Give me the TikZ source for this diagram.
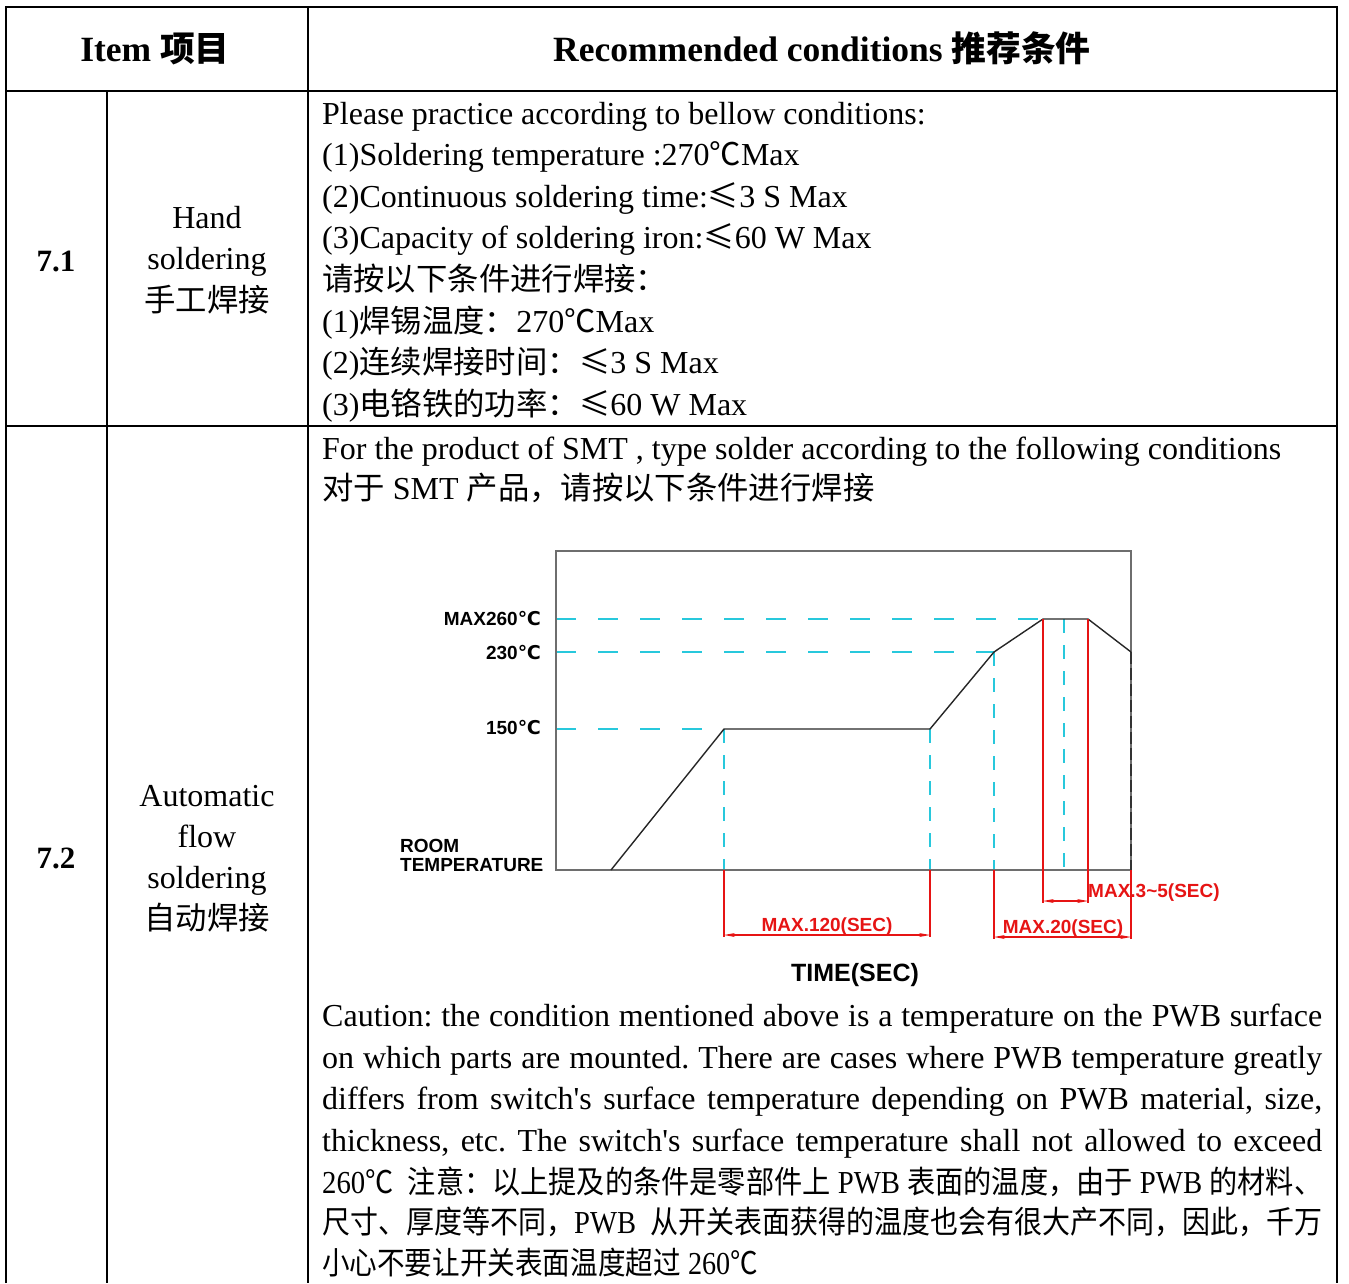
\documentclass[tikz,border=0pt]{standalone}
\usepackage{fontspec}
\usepackage{graphicx}
\setmainfont{Liberation Serif}
\setsansfont{Liberation Sans}
\newfontfamily\cjk[Scale=0.98]{Noto Sans CJK SC}
\newfontfamily\dvs{DejaVu Sans}
\usetikzlibrary{arrows.meta}
\definecolor{cy}{RGB}{40,200,220}
\definecolor{rd}{RGB}{230,20,20}
\definecolor{bx}{RGB}{110,110,110}
\frenchspacing
\begin{document}
\begin{tikzpicture}[x=1pt,y=-1pt,
 gridline/.style={line width=2.6pt,black},
 txt/.style={inner sep=0pt,anchor=base west,font=\fontsize{32}{40}\selectfont\frenchspacing},
 ctxt/.style={inner sep=0pt,anchor=base,font=\fontsize{32}{40}\selectfont},
 hdr/.style={inner sep=0pt,anchor=base,font=\fontsize{35.5}{40}\selectfont\bfseries},
 num/.style={inner sep=0pt,anchor=base,font=\fontsize{31}{40}\selectfont\bfseries},
 lbl/.style={inner sep=0pt,font=\fontsize{19}{21}\selectfont\sffamily\bfseries},
 rlbl/.style={lbl,text=rd},
 cyd/.style={cy,line width=1.2pt,dash pattern=on 20pt off 22pt},
 cyv/.style={cy,line width=1.2pt,dash pattern=on 14pt off 12pt},
 rl/.style={rd,line width=1.2pt},
 dim/.style={rd,line width=1.2pt,{Stealth[length=11pt,width=4pt]}-{Stealth[length=11pt,width=4pt]}},
 prof/.style={black!85,line width=1.4pt,line join=round},
]
\useasboundingbox (0,0) rectangle (1349,1283);

% ---------- table grid ----------
\draw[gridline] (6,1283) -- (6,7) -- (1337,7) -- (1337,1283);
\draw[gridline] (6,91) -- (1337,91);
\draw[gridline] (6,426) -- (1337,426);
\draw[gridline] (308,7) -- (308,1283);
\draw[gridline] (107,91) -- (107,1283);

% ---------- header ----------
\node[hdr] (hitem) at (155,61) {Item {\cjk 项目}};
\node[hdr] (hrec) at (822,61) {Recommended conditions {\cjk 推荐条件}};

% ---------- row 7.1 ----------
\node[num] (n71) at (56,271) {7.1};
\node[ctxt] (h1) at (207,228) {Hand};
\node[ctxt] (h2) at (207,269) {soldering};
\node[ctxt] (h3) at (207,311) {\cjk 手工焊接};

\node[txt] (a1) at (322,124.0) {Please practice according to bellow conditions:};
\node[txt] (a2) at (322,165.6) {(1)Soldering temperature :270{\cjk ℃}Max};
\node[txt] (a3) at (322,207.2) {(2)Continuous soldering time:{\cjk ≤}3 S Max};
\node[txt] (a4) at (322,248.8) {(3)Capacity of soldering iron:{\cjk ≤}60 W Max};
\node[txt] (a5) at (322,290.4) {\cjk 请按以下条件进行焊接：};
\node[txt] (a6) at (322,332.0) {(1){\cjk 焊锡温度：}270{\cjk ℃}Max};
\node[txt] (a7) at (322,373.6) {(2){\cjk 连续焊接时间：≤}3 S Max};
\node[txt] (a8) at (322,415.2) {(3){\cjk 电铬铁的功率：≤}60 W Max};

% ---------- row 7.2 ----------
\node[num] (n72) at (56,868) {7.2};
\node[ctxt] (b1) at (207,806) {Automatic};
\node[ctxt] (b2) at (207,847) {flow};
\node[ctxt] (b3) at (207,888) {soldering};
\node[ctxt] (b4) at (207,929) {\cjk 自动焊接};

\node[txt] (s1) at (322,459) {For the product of SMT , type solder according to the following conditions};
\node[txt] (s2) at (322,499) {{\cjk 对于} SMT {\cjk 产品，请按以下条件进行焊接}};

% ---------- chart ----------
\draw[cyd] (556,619) -- (1043,619);
\draw[cyd] (556,652) -- (994,652);
\draw[cyd] (556,729) -- (724,729);
\draw[cyv] (724,729) -- (724,870);
\draw[cyv] (930,729) -- (930,870);
\draw[cyv] (994,652) -- (994,870);
\draw[cyv] (1064,619) -- (1064,870);

\draw[bx,line width=1.6pt] (556,551) rectangle (1131,870);
\draw[black!80,line width=2pt,dash pattern=on 12pt off 4pt] (1131,652) -- (1131,870);

\draw[prof] (611,870) -- (724,729) -- (930,729) -- (994,652) -- (1043,619) -- (1088,619) -- (1131,652);

\draw[rl] (724,870) -- (724,937);
\draw[rl] (930,870) -- (930,937);
\draw[dim] (724,935) -- (930,935);
\draw[rl] (994,870) -- (994,939);
\draw[rl] (1131,870) -- (1131,939);
\draw[dim] (994,937) -- (1131,937);
\draw[rl] (1043,619) -- (1043,903);
\draw[rl] (1088,619) -- (1088,903);
\draw[dim] (1043,901) -- (1088,901);

\node[lbl,anchor=east] (l260) at (541,619) {MAX260{\dvs ℃}};
\node[lbl,anchor=east] (l230) at (541,653) {230{\dvs ℃}};
\node[lbl,anchor=east] (l150) at (541,728) {150{\dvs ℃}};
\node[lbl,anchor=west] (lroom) at (400,846) {ROOM};
\node[lbl,anchor=west] (ltemp) at (400,865) {TEMPERATURE};
\node[rlbl] (d120) at (827,927) {MAX.120(SEC)};
\node[rlbl] (d20) at (1063,929) {MAX.20(SEC)};
\node[rlbl,anchor=west] (d35) at (1088,893) {MAX.3\textasciitilde5(SEC)};
\node[lbl,font=\fontsize{25}{28}\selectfont\sffamily\bfseries] (ltime) at (855,975) {TIME(SEC)};

% ---------- caution ----------
\node[txt] (c1) at (322,1026) {\makebox[1000pt][s]{Caution: the condition mentioned above is a temperature on the PWB surface}};
\node[txt] (c2) at (322,1068) {\makebox[1000pt][s]{on which parts are mounted. There are cases where PWB temperature greatly}};
\node[txt] (c3) at (322,1109) {\makebox[1000pt][s]{differs from switch\textquotesingle s surface temperature depending on PWB material, size,}};
\node[txt] (c4) at (322,1151) {\makebox[1000pt][s]{thickness, etc. The switch\textquotesingle s surface temperature shall not allowed to exceed}};
\node[txt] (c5) at (322,1193) {\resizebox{1000pt}{\height}{260{\cjk ℃}\ \ {\cjk 注意：以上提及的条件是零部件上} PWB {\cjk 表面的温度，由于} PWB {\cjk 的材料、}}};
\node[txt] (c6) at (322,1233) {\resizebox{1000pt}{\height}{{\cjk 尺寸、厚度等不同，}PWB\ \ {\cjk 从开关表面获得的温度也会有很大产不同，因此，千万}}};
\node[txt] (c7) at (322,1274) {\scalebox{0.88}[1]{{\cjk 小心不要让开关表面温度超过} 260{\cjk ℃}}};
\end{tikzpicture}
\end{document}
